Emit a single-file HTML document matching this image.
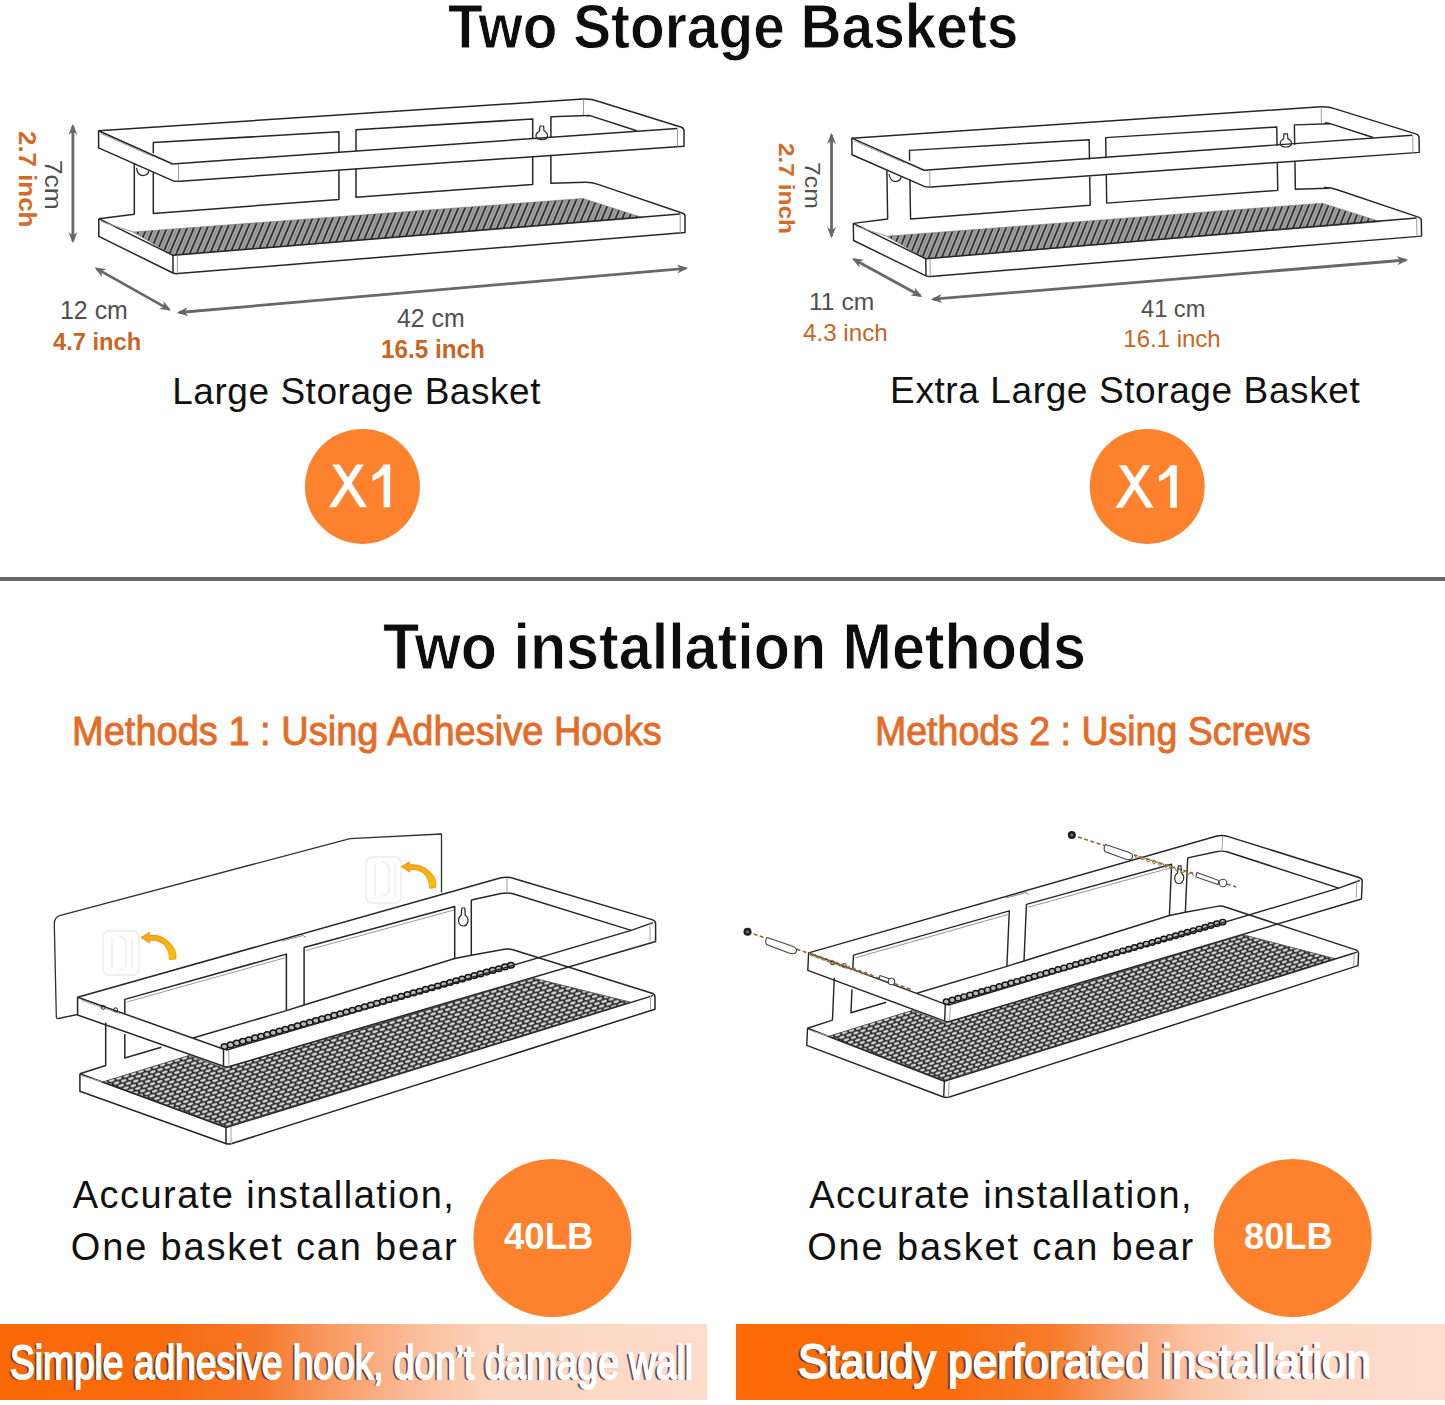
<!DOCTYPE html>
<html><head><meta charset="utf-8"><style>
html,body{margin:0;padding:0;background:#fff;}
body{width:1445px;height:1405px;position:relative;overflow:hidden;font-family:"Liberation Sans", sans-serif;}
.tx{position:absolute;white-space:nowrap;line-height:1;transform-origin:0 0;font-family:"Liberation Sans", sans-serif;}
.bn{text-shadow:-3px 1px 0.8px rgba(95,50,30,0.95);}
#bar1{position:absolute;left:0;top:1324px;width:707px;height:76px;background:linear-gradient(90deg,#f96806 0px,#f86a0c 160px,#f7782a 260px,#f89a62 330px,#fabb98 410px,#fcd4bd 490px,#fddccc 707px);}
#bar2{position:absolute;left:736px;top:1324px;width:709px;height:76px;background:linear-gradient(90deg,#fc6904 0px,#fa6c0c 215px,#f77c2c 318px,#f8a070 385px,#fbc6a8 462px,#fcd8c4 540px,#fddccc 709px);}
#hr{position:absolute;left:0;top:577px;width:1445px;height:4px;background:#666;}
svg#art{position:absolute;left:0;top:0;}
</style></head><body>
<div id="hr"></div>
<div id="bar1"></div>
<div id="bar2"></div>
<svg id="art" width="1445" height="1405" viewBox="0 0 1445 1405">
<defs>
<pattern id="hatch" width="6.2" height="10" patternUnits="userSpaceOnUse" patternTransform="rotate(23)">
<rect width="6.2" height="10" fill="#a2a2a2"/>
<line x1="1" y1="0" x2="1" y2="10" stroke="#1c1c1c" stroke-width="1.5"/>
<line x1="4" y1="0" x2="4" y2="10" stroke="#808080" stroke-width="0.8"/>
</pattern>
<pattern id="honey" width="7.6" height="7.6" patternUnits="userSpaceOnUse" patternTransform="rotate(-17)">
<rect width="7.6" height="7.6" fill="#2a2a2a"/>
<ellipse cx="3.8" cy="1.9" rx="2.9" ry="1.35" fill="#d6d6d6"/>
<ellipse cx="0" cy="5.7" rx="2.9" ry="1.35" fill="#d6d6d6"/>
<ellipse cx="7.6" cy="5.7" rx="2.9" ry="1.35" fill="#d6d6d6"/>
</pattern>
<marker id="ah" viewBox="0 0 10 10" refX="8" refY="5" markerWidth="4" markerHeight="4" orient="auto-start-reverse">
<path d="M0,1 L10,5 L0,9 L3,5 Z" fill="#666"/>
</marker>
</defs>

<!-- ================= B1 ================= -->
<g id="b1" fill="none" stroke="#262626" stroke-width="1.5" stroke-linejoin="round">
 <!-- mesh -->
 <path d="M133,232 L583,198.5 L643,217.7 L173,255.3 Z" fill="url(#hatch)" stroke="#777" stroke-width="0.6"/>
 <!-- top frame -->
 <path d="M98.6,130.8 L583,99 Q591,98.6 598,101.2 L681.5,127.3 Q684,128.3 684,131 L684,146.2 L180,181.2 Q175,181.6 172.6,180.6 L98.6,147.9 Z"/>
 <path d="M98.6,130.8 L172.6,164 L677,128.4"/>
 <path d="M636.7,130.8 L590,115.6 L587,115.7"/>
 <g stroke="#9a9a9a" stroke-width="1">
  <path d="M101,133.5 L153,156.5"/>
  <path d="M178.5,164 L178.5,181.4 M677.5,128.4 L677.5,146.6 M583.5,99.5 L583.5,115.5"/>
 </g>
 <path d="M134.3,164 L134.3,214.3 L98.8,218.7"/>
 <path d="M136.5,167.8 Q137.5,175.5 143,175.6 Q148.5,175.2 149,170" stroke-width="1.2"/>
 <!-- tray -->
 <path d="M585.2,182.3 Q592,182.2 598,184.4 L682,213 Q685,214 685,216 L685,232.6 L178,273.6 Q175,273.8 173,273 L98.8,236.4 L98.8,218.7"/>
 <path d="M98.8,218.7 L173,255.3 L680,213.9"/>
 <path d="M173,255.3 L173,273"/>
 <g stroke="#9a9a9a" stroke-width="1">
  <path d="M177.4,255.6 L177.4,273.4 M680.2,214 L680.2,233 M101,221.5 L133,232"/>
 </g>
</g>

<g id="b1w" fill="none" stroke="#262626" stroke-width="1.5" stroke-linejoin="round">
 <!-- windows -->
 <path d="M153.3,153.3 L153.3,142.6 L338.9,131.8 L338.9,152.2"/>
 <path d="M356,150.9 L356,129.7 L532.7,119 L532.7,138.6"/>
 <path d="M550.9,137.4 L550.9,116.8 L588,115.6"/>
 <path d="M153.3,172.5 L153.3,213.4 L338.9,199.4 L338.9,169.8"/>
 <path d="M356,168.6 L356,197.3 L532.7,184.4 L532.7,156.4"/>
 <path d="M550.9,155.2 L550.9,183.3 L585.2,182.3"/>
 <path d="M540,126 L543.6,126 L544,131 Q548,133 547.6,136.5 Q546.5,139.6 541.8,139.6 Q537,139.6 536,136.5 Q535.6,133 539.6,131 Z" stroke-width="1.2"/>
</g>
<!-- B1 dimension arrows -->
<g stroke="#686868" stroke-width="2.8" fill="none" marker-start="url(#ah)" marker-end="url(#ah)">
 <line x1="72.9" y1="126" x2="72.9" y2="241"/>
 <line x1="96.5" y1="268.6" x2="169" y2="309.4"/>
 <line x1="179" y1="312.5" x2="686" y2="268.3"/>
</g>

<!-- ================= B2 (transformed B1) ================= -->
<use href="#b1" transform="matrix(0.96901,-0.00123,0.015,0.969,754.29,11.57)"/>
<use href="#b1w" transform="translate(4.5,0.8) matrix(0.96901,-0.00123,0.015,0.969,754.29,11.57)"/>
<g stroke="#686868" stroke-width="2.8" fill="none" marker-start="url(#ah)" marker-end="url(#ah)">
 <line x1="831.5" y1="135" x2="831.5" y2="236"/>
 <line x1="854" y1="259.4" x2="920.4" y2="295.8"/>
 <line x1="933" y1="299.2" x2="1406" y2="260"/>
</g>


<!-- ================= B3 ================= -->
<g id="b3" fill="none" stroke="#262626" stroke-width="1.5" stroke-linejoin="round">
 <!-- big mesh -->
 <path d="M102.4,1082 L189,1055.5 L224,1068.2 L533.9,978.2 L630,1002 L226,1126.5 Z" fill="url(#honey)" stroke="#444" stroke-width="0.8"/>
 <!-- upper mesh strip -->
 <g fill="#b8b8b8" stroke="#141414" stroke-width="1.5"><ellipse cx="224.5" cy="1046.6" rx="3.3" ry="2.8"/><ellipse cx="230.6" cy="1044.9" rx="3.3" ry="2.8"/><ellipse cx="236.7" cy="1043.1" rx="3.3" ry="2.8"/><ellipse cx="242.8" cy="1041.4" rx="3.3" ry="2.8"/><ellipse cx="248.9" cy="1039.7" rx="3.3" ry="2.8"/><ellipse cx="255.0" cy="1037.9" rx="3.3" ry="2.8"/><ellipse cx="261.1" cy="1036.2" rx="3.3" ry="2.8"/><ellipse cx="267.2" cy="1034.5" rx="3.3" ry="2.8"/><ellipse cx="273.3" cy="1032.7" rx="3.3" ry="2.8"/><ellipse cx="279.4" cy="1031.0" rx="3.3" ry="2.8"/><ellipse cx="285.5" cy="1029.3" rx="3.3" ry="2.8"/><ellipse cx="291.6" cy="1027.5" rx="3.3" ry="2.8"/><ellipse cx="297.6" cy="1025.8" rx="3.3" ry="2.8"/><ellipse cx="303.7" cy="1024.1" rx="3.3" ry="2.8"/><ellipse cx="309.8" cy="1022.4" rx="3.3" ry="2.8"/><ellipse cx="315.9" cy="1020.6" rx="3.3" ry="2.8"/><ellipse cx="322.0" cy="1018.9" rx="3.3" ry="2.8"/><ellipse cx="328.1" cy="1017.2" rx="3.3" ry="2.8"/><ellipse cx="334.2" cy="1015.4" rx="3.3" ry="2.8"/><ellipse cx="340.3" cy="1013.7" rx="3.3" ry="2.8"/><ellipse cx="346.4" cy="1012.0" rx="3.3" ry="2.8"/><ellipse cx="352.5" cy="1010.2" rx="3.3" ry="2.8"/><ellipse cx="358.6" cy="1008.5" rx="3.3" ry="2.8"/><ellipse cx="364.7" cy="1006.8" rx="3.3" ry="2.8"/><ellipse cx="370.8" cy="1005.0" rx="3.3" ry="2.8"/><ellipse cx="376.9" cy="1003.3" rx="3.3" ry="2.8"/><ellipse cx="383.0" cy="1001.6" rx="3.3" ry="2.8"/><ellipse cx="389.1" cy="999.8" rx="3.3" ry="2.8"/><ellipse cx="395.2" cy="998.1" rx="3.3" ry="2.8"/><ellipse cx="401.3" cy="996.4" rx="3.3" ry="2.8"/><ellipse cx="407.4" cy="994.6" rx="3.3" ry="2.8"/><ellipse cx="413.5" cy="992.9" rx="3.3" ry="2.8"/><ellipse cx="419.6" cy="991.2" rx="3.3" ry="2.8"/><ellipse cx="425.7" cy="989.4" rx="3.3" ry="2.8"/><ellipse cx="431.8" cy="987.7" rx="3.3" ry="2.8"/><ellipse cx="437.9" cy="986.0" rx="3.3" ry="2.8"/><ellipse cx="443.9" cy="984.3" rx="3.3" ry="2.8"/><ellipse cx="450.0" cy="982.5" rx="3.3" ry="2.8"/><ellipse cx="456.1" cy="980.8" rx="3.3" ry="2.8"/><ellipse cx="462.2" cy="979.1" rx="3.3" ry="2.8"/><ellipse cx="468.3" cy="977.3" rx="3.3" ry="2.8"/><ellipse cx="474.4" cy="975.6" rx="3.3" ry="2.8"/><ellipse cx="480.5" cy="973.9" rx="3.3" ry="2.8"/><ellipse cx="486.6" cy="972.1" rx="3.3" ry="2.8"/><ellipse cx="492.7" cy="970.4" rx="3.3" ry="2.8"/><ellipse cx="498.8" cy="968.7" rx="3.3" ry="2.8"/><ellipse cx="504.9" cy="966.9" rx="3.3" ry="2.8"/><ellipse cx="511.0" cy="965.2" rx="3.3" ry="2.8"/></g>
 <!-- ring -->
 <path d="M77.6,997.2 L501,877.7 Q507,876.4 513,878.2 L652,919.6 Q655.6,920.8 655.6,923.5 L655.6,941.5 L229.5,1066.5 Q226,1067.4 223.5,1066.3 L77.6,1015 Z" fill="none"/>
 <path d="M77.6,997.2 L219.8,1047.8 L223.5,1049 L223.5,1066"/>
 <path d="M226,1050.2 L631.2,930.4 L653,922.6"/>
 <path d="M631.2,930.4 L513,893.8 Q507,892.3 501,893.6 L471.3,899.9"/>
 <g stroke="#a0a0a0" stroke-width="1">
  <path d="M228.8,1050 L228.8,1066.5 M650,921.5 L650,941 M507,878 L507,893 M82,1000.5 L120,1013.5"/>
 </g>
 <circle cx="103.2" cy="1007.3" r="2" stroke-width="1"/>
 <circle cx="115.6" cy="1009.8" r="2" stroke-width="1"/>
 <path d="M282,941 L303,935.5 L306,937.5" stroke="#888" stroke-width="1"/>
 <!-- back panel windows -->
 <path d="M124.8,1013.2 L124.8,999.4 L286.4,954.1 L286.4,1010.6 L193,1038"/>
 <path d="M127,1002 L286,957.5" stroke="#9a9a9a" stroke-width="1"/>
 <path d="M304.1,947.5 L454.7,906.5 L454.7,958.5 L304.1,1005 Z"/>
 <path d="M306,950.5 L454,910" stroke="#9a9a9a" stroke-width="1"/>
 <path d="M471.3,955.2 L471.3,899.9"/>
 <path d="M124.8,1034 L124.8,1058 L161.3,1047.2"/>
 <path d="M105.7,1022.5 L105.7,1065.5 L79.9,1073.8"/>
 <path d="M462,908 L464.6,908 Q465.5,912 465,915 Q468.6,917.5 468,921.5 Q467,926 463.3,926 Q459.5,926 458.6,921.5 Q458,917.5 461.5,915 Q461,912 462,908 Z" stroke-width="1.2"/>
 <!-- tray -->
 <path d="M454.7,958.5 L471.3,955.2 M286.4,1010.6 L304.1,1005 M471.3,955.2 L504.4,949.2 Q509,948.4 513,949.8 L652,993.2 Q655,994.2 655,996.8 L655,1009.2 L232,1143.5 Q228,1144.6 225,1143.2 L79.9,1091.2 L79.9,1073.8"/>
 <path d="M79.9,1073.8 L226,1127.5 L226,1143"/>
 <path d="M226,1127.5 L653,995.6"/>
 <g stroke="#a0a0a0" stroke-width="1">
  <path d="M231,1126.5 L231,1144 M650.5,995.8 L650.5,1010 M83,1076 L102.4,1082"/>
 </g>
</g>
<!-- B3 plate -->
<g fill="none" stroke="#303030" stroke-width="1.3" stroke-linejoin="round">
 <path d="M77.6,1014.5 L58.5,1018.5 Q56.4,1018.8 56.3,1016.5 L54.3,924 Q54.3,917 60.5,915.4 L350,838.6 L441.5,834 L441.5,892.6"/>
</g>
<!-- ghost hooks -->
<g fill="none" stroke="#ebebeb" stroke-width="1.3">
 <rect x="103" y="931" width="36" height="44" rx="6"/>
 <path d="M112,938 L112,968 M119,936 Q126,936 126,945 L126,962 Q126,970 119,970 M132,938 L132,968"/>
 <rect x="366" y="857" width="35" height="46" rx="6"/>
 <path d="M375,864 L375,896 M382,862 Q389,862 389,871 L389,888 Q389,896 382,896 M395,864 L395,896"/>
</g>
<!-- orange arrows -->
<defs>
<linearGradient id="og" x1="0" y1="0" x2="1" y2="1"><stop offset="0" stop-color="#f3a21c"/><stop offset="1" stop-color="#f7c200"/></linearGradient>
</defs>
<g fill="url(#og)" stroke="#e58d1c" stroke-width="0.8">
 <path d="M141,937.5 L149.5,932.2 L149,935.2 Q165,933.5 174.5,949 Q176.5,953 176,959 L169.5,959.5 Q170,952 165,945.5 Q159,939.5 149.5,940.2 L150,943.2 Z"/>
 <path d="M401.2,866.6 L409.5,861.8 L409.2,864.6 Q426,863.8 434.5,877.5 Q436.5,881.5 435.8,887.5 L429.5,888.3 Q430,881 425,874.5 Q419,868.8 409.6,869.4 L409.9,872.2 Z"/>
</g>


<!-- ================= B4 ================= -->
<use href="#b3" transform="matrix(0.9524,0.00163,-0.0427,0.9833,777.27,-27.78)"/>
<!-- screws -->
<g>
 <line x1="747.5" y1="931.8" x2="911.9" y2="989.7" stroke="#8a6a30" stroke-width="1.6" stroke-dasharray="4 2.5"/>
 <line x1="1071.8" y1="835.1" x2="1236.2" y2="887.1" stroke="#8a6a30" stroke-width="1.6" stroke-dasharray="4 2.5"/>
 <path d="M809.5,952.1 L811.3,956.1 L815.2,954.1 L817.0,958.1 L820.8,956.1 L822.6,960.1 L826.5,958.1 L828.3,962.1 L832.2,960.1 L833.9,964.1 L837.8,962.1 L839.6,966.1 L843.5,964.1 L845.3,968.1 L849.1,966.0 L850.9,970.1 L854.8,968.0 L856.6,972.1 L860.5,970.0 L862.2,974.1 L866.1,972.0 L867.9,976.0 L871.8,974.0" fill="none" stroke="#8a7040" stroke-width="1"/>
 <path d="M1134.5,854.5 L1136.4,858.4 L1140.2,856.3 L1142.1,860.2 L1145.9,858.1 L1147.8,862.1 L1151.6,859.9 L1153.5,863.9 L1157.4,861.7 L1159.3,865.7 L1163.1,863.5 L1165.0,867.5 L1168.8,865.3 L1170.7,869.3 L1174.5,867.1 L1176.4,871.1 L1180.2,869.0 L1182.1,872.9 L1186.0,870.8 L1187.9,874.7 L1191.7,872.6 L1193.6,876.5" fill="none" stroke="#8a7040" stroke-width="1"/>
 <circle cx="747.5" cy="931.8" r="4" fill="#1e1e1e"/>
 <circle cx="747.5" cy="931.8" r="1.5" fill="#777"/>
 <circle cx="1071.8" cy="835.1" r="4" fill="#1e1e1e"/>
 <circle cx="1071.8" cy="835.1" r="1.5" fill="#777"/>
 <g fill="#fff" stroke="#444" stroke-width="1.1">
  <path d="M767,937.5 L792,946 Q797.5,948 796.5,951.5 Q795,955 789,953 L766.5,944.5 Q764.5,941 767,937.5 Z"/>
  <path d="M1105.5,844.5 L1128,852 Q1133.5,854 1132.5,857.5 Q1131,861 1125,859 L1105,851.5 Q1103,848 1105.5,844.5 Z"/>
  <path d="M1197,872.5 L1219,880.5 L1218,884.5 L1196,877 Z"/>
  <circle cx="1223" cy="883" r="3.8"/>
  <path d="M880,975.5 L890,979 L889,982.5 L879,979 Z"/>
  <circle cx="891.5" cy="981.5" r="3.2"/>
 </g>
</g>

<g fill="#fe812e">
<circle cx="362.4" cy="486.4" r="57.5"/>
<circle cx="1147.2" cy="486.4" r="57.5"/>
<circle cx="552.4" cy="1238.1" r="79"/>
<circle cx="1292.7" cy="1238.1" r="79"/>
</g>

<defs><clipPath id="x1clip"><rect x="320" y="464.6" width="80" height="42.6"/></clipPath></defs>
<g id="x1g">
 <g clip-path="url(#x1clip)" stroke="#fff" stroke-width="6.2" fill="none">
  <line x1="333" y1="460" x2="366.6" y2="512"/>
  <line x1="363" y1="460" x2="329.4" y2="512"/>
 </g>
 <path d="M383.6,464.6 L390.2,464.6 L390.2,507.2 L383.6,507.2 L383.6,474.5 Q378.5,478.6 372.5,481 L372.5,475.2 Q380,471.5 383.6,464.6 Z" fill="#fff"/>
</g>
<use href="#x1g" transform="translate(786.6,0.6)"/>
</svg>

<div class="tx " id="t1" style="left:448.41px;top:-5.40px;font-size:63.5px;font-weight:bold;color:#0d0d0d;transform:scaleX(0.8948);-webkit-text-stroke:0.9px #fff;">Two Storage Baskets</div>
<div class="tx " id="t2" style="left:382.87px;top:615.20px;font-size:64px;font-weight:bold;color:#0d0d0d;transform:scaleX(0.9254);-webkit-text-stroke:0.9px #fff;">Two installation Methods</div>
<div class="tx " id="lsb" style="left:172.20px;top:372.70px;font-size:37px;font-weight:normal;color:#111;letter-spacing:0.547px;">Large Storage Basket</div>
<div class="tx " id="elsb" style="left:890.10px;top:372.30px;font-size:37px;font-weight:normal;color:#111;letter-spacing:0.604px;">Extra Large Storage Basket</div>
<div class="tx " id="m1" style="left:71.55px;top:711.40px;font-size:40px;font-weight:normal;color:#e46c28;transform:scaleX(0.9506);-webkit-text-stroke:0.9px #e46c28;">Methods 1 : Using Adhesive Hooks</div>
<div class="tx " id="m2" style="left:874.69px;top:710.60px;font-size:40px;font-weight:normal;color:#e46c28;transform:scaleX(0.9378);-webkit-text-stroke:0.9px #e46c28;">Methods 2 : Using Screws</div>
<div class="tx " id="a1" style="left:72.80px;top:1175.70px;font-size:38px;font-weight:normal;color:#111;letter-spacing:1.448px;">Accurate installation,</div>
<div class="tx " id="o1" style="left:70.80px;top:1227.90px;font-size:38px;font-weight:normal;color:#111;letter-spacing:1.839px;">One basket can bear</div>
<div class="tx " id="a2" style="left:809.20px;top:1175.70px;font-size:38px;font-weight:normal;color:#111;letter-spacing:1.514px;">Accurate installation,</div>
<div class="tx " id="o2" style="left:807.20px;top:1227.90px;font-size:38px;font-weight:normal;color:#111;letter-spacing:1.839px;">One basket can bear</div>
<div class="tx " id="lb4" style="left:503.72px;top:1218.30px;font-size:37.5px;font-weight:bold;color:#fff;transform:scaleX(0.9753);">40LB</div>
<div class="tx " id="lb8" style="left:1244.43px;top:1218.30px;font-size:37.5px;font-weight:bold;color:#fff;transform:scaleX(0.9674);">80LB</div>
<div class="tx bn" id="bn1" style="left:10.18px;top:1338.50px;font-size:48px;font-weight:normal;color:#fff;transform:scaleX(0.7734);-webkit-text-stroke:2px #fff;">Simple adhesive hook, don’t damage wall</div>
<div class="tx bn" id="bn2" style="left:797.53px;top:1338.00px;font-size:48px;font-weight:normal;color:#fff;transform:scaleX(0.9220);-webkit-text-stroke:2px #fff;">Staudy perforated installation</div>
<div class="tx " id="d12" style="left:59.61px;top:297.60px;font-size:25px;font-weight:normal;color:#505050;transform:scaleX(0.9969);">12 cm</div>
<div class="tx " id="d47" style="left:52.70px;top:329.80px;font-size:24.5px;font-weight:bold;color:#c8661f;transform:scaleX(0.9667);">4.7 inch</div>
<div class="tx " id="d42" style="left:396.90px;top:306.40px;font-size:25px;font-weight:normal;color:#505050;transform:scaleX(0.9955);">42 cm</div>
<div class="tx " id="d165" style="left:381.10px;top:336.50px;font-size:25.5px;font-weight:bold;color:#c8661f;transform:scaleX(0.9509);">16.5 inch</div>
<div class="tx " id="d11" style="left:809.46px;top:290.90px;font-size:23px;font-weight:normal;color:#505050;transform:scaleX(1.0702);">11 cm</div>
<div class="tx " id="d43" style="left:802.69px;top:321.00px;font-size:24px;font-weight:normal;color:#c8661f;transform:scaleX(1.0073);">4.3 inch</div>
<div class="tx " id="d41" style="left:1141.37px;top:298.40px;font-size:23px;font-weight:normal;color:#505050;transform:scaleX(1.0267);">41 cm</div>
<div class="tx " id="d161" style="left:1123.30px;top:327.10px;font-size:24px;font-weight:normal;color:#c8661f;transform:scaleX(1.0000);">16.1 inch</div>
<div class="tx" id="r7a" style="left:65.00px;top:160.40px;font-size:24px;font-weight:normal;color:#505050;transform:rotate(90deg) scaleX(1.0953);">7cm</div>
<div class="tx" id="r27a" style="left:37.50px;top:130.50px;font-size:23.5px;font-weight:bold;color:#d46a24;transform:rotate(90deg) scaleX(1.1012);">2.7 inch</div>
<div class="tx" id="r7b" style="left:823.40px;top:161.90px;font-size:22.5px;font-weight:normal;color:#505050;transform:rotate(90deg) scaleX(1.1000);">7cm</div>
<div class="tx" id="r27b" style="left:797.40px;top:143.41px;font-size:22.5px;font-weight:bold;color:#d46a24;transform:rotate(90deg) scaleX(1.0852);">2.7 inch</div>
</body></html>
